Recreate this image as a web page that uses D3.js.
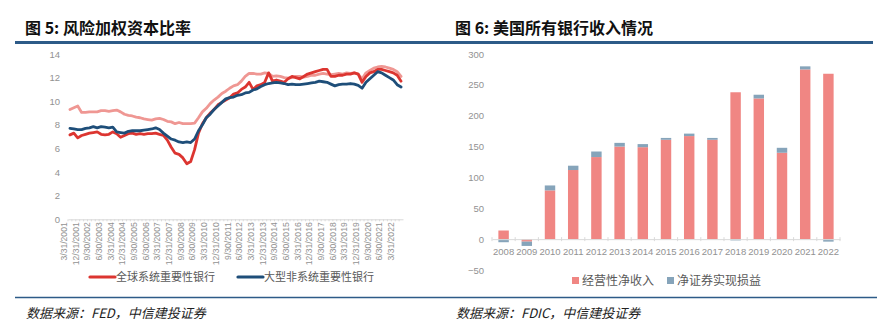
<!DOCTYPE html>
<html>
<head>
<meta charset="utf-8">
<script src="https://cdn.jsdelivr.net/npm/d3@7/dist/d3.min.js"></script>
<style>
  html, body { margin: 0; padding: 0; background: #fff; }
  svg { display: block; }
  .title { font-family: "Noto Sans CJK SC", sans-serif; font-weight: 700; font-size: 16px; fill: #111; }
  .src { font-family: "Noto Sans CJK SC", serif; font-style: italic; font-size: 13px; fill: #222; }
  .tick text { font-family: "Liberation Sans", Arial, sans-serif; fill: #929292; }
  .legend { font-family: "Noto Sans CJK SC", sans-serif; fill: #595959; }
</style>
</head>
<body>
<svg id="chart" width="886" height="331"></svg>
<script>
// ---------- Figure 5: risk-weighted capital ratio (quarterly) ----------
const quarters = [
  "3/31/2001","6/30/2001","9/30/2001","12/31/2001",
  "3/31/2002","6/30/2002","9/30/2002","12/31/2002",
  "3/31/2003","6/30/2003","9/30/2003","12/31/2003",
  "3/31/2004","6/30/2004","9/30/2004","12/31/2004",
  "3/31/2005","6/30/2005","9/30/2005","12/31/2005",
  "3/31/2006","6/30/2006","9/30/2006","12/31/2006",
  "3/31/2007","6/30/2007","9/30/2007","12/31/2007",
  "3/31/2008","6/30/2008","9/30/2008","12/31/2008",
  "3/31/2009","6/30/2009","9/30/2009","12/31/2009",
  "3/31/2010","6/30/2010","9/30/2010","12/31/2010",
  "3/31/2011","6/30/2011","9/30/2011","12/31/2011",
  "3/31/2012","6/30/2012","9/30/2012","12/31/2012",
  "3/31/2013","6/30/2013","9/30/2013","12/31/2013",
  "3/31/2014","6/30/2014","9/30/2014","12/31/2014",
  "3/31/2015","6/30/2015","9/30/2015","12/31/2015",
  "3/31/2016","6/30/2016","9/30/2016","12/31/2016",
  "3/31/2017","6/30/2017","9/30/2017","12/31/2017",
  "3/31/2018","6/30/2018","9/30/2018","12/31/2018",
  "3/31/2019","6/30/2019","9/30/2019","12/31/2019",
  "3/31/2020","6/30/2020","9/30/2020","12/31/2020",
  "3/31/2021","6/30/2021","9/30/2021","12/31/2021",
  "3/31/2022","6/30/2022"
];

const quarterTicks = [
  "3/31/2001","12/31/2001","9/30/2002","6/30/2003","3/31/2004","12/31/2004",
  "9/30/2005","6/30/2006","3/31/2007","12/31/2007","9/30/2008","6/30/2009",
  "3/31/2010","12/31/2010","9/30/2011","6/30/2012","3/31/2013","12/31/2013",
  "9/30/2014","6/30/2015","3/31/2016","12/31/2016","9/30/2017","6/30/2018",
  "3/31/2019","12/31/2019","9/30/2020","6/30/2021","3/31/2022"
];

const ratioTicks = [0, 2, 4, 6, 8, 10, 12, 14];

// All banks (light line, no legend entry)
const allBanks = [
  9.30, 9.45, 9.60, 9.05, 9.05, 9.10, 9.10, 9.10, 9.20, 9.20,
  9.15, 9.20, 9.25, 9.10, 8.90, 8.80, 8.75, 8.65, 8.60, 8.50,
  8.45, 8.40, 8.50, 8.55, 8.45, 8.30, 8.25, 8.10, 8.20, 8.10,
  8.10, 8.10, 8.15, 8.60, 9.10, 9.40, 9.80, 10.10, 10.35, 10.65,
  10.85, 11.10, 11.30, 11.40, 11.70, 12.10, 12.35, 12.35, 12.30, 12.30,
  12.40, 12.35, 12.10, 12.15, 12.10, 12.00, 11.95, 12.00, 12.10, 12.10,
  12.05, 12.10, 12.20, 12.20, 12.30, 12.35, 12.30, 12.25, 12.30, 12.35,
  12.30, 12.40, 12.35, 12.40, 12.30, 11.90, 12.40, 12.60, 12.80, 12.90,
  12.95, 12.90, 12.80, 12.70, 12.50, 12.10
];

// 全球系统重要性银行
const gsib = [
  7.15, 7.30, 6.90, 7.10, 7.20, 7.30, 7.35, 7.40, 7.20, 7.15,
  7.20, 7.40, 7.25, 6.95, 7.10, 7.25, 7.30, 7.20, 7.25, 7.20,
  7.25, 7.25, 7.30, 7.20, 7.10, 6.70, 6.10, 5.60, 5.50, 5.20,
  4.70, 4.90, 5.90, 7.30, 8.10, 8.60, 9.00, 9.30, 9.70, 9.90,
  10.10, 10.30, 10.60, 10.70, 11.00, 11.20, 11.60, 11.00, 11.30, 11.40,
  11.60, 12.40, 11.70, 11.80, 11.70, 11.60, 11.90, 12.10, 12.00, 11.90,
  12.10, 12.30, 12.40, 12.50, 12.60, 12.70, 12.70, 12.10, 12.10, 12.20,
  12.20, 12.30, 12.30, 12.40, 12.30, 11.60, 12.10, 12.40, 12.50, 12.70,
  12.70, 12.60, 12.50, 12.40, 12.20, 11.70
];

// 大型非系统重要性银行
const largeNonGsib = [
  7.70, 7.65, 7.60, 7.60, 7.70, 7.75, 7.85, 7.75, 7.85, 7.80,
  7.75, 7.80, 7.40, 7.35, 7.30, 7.45, 7.50, 7.50, 7.50, 7.55,
  7.60, 7.65, 7.75, 7.60, 7.30, 7.05, 6.80, 6.70, 6.55, 6.50,
  6.55, 6.50, 6.80, 7.50, 8.00, 8.60, 8.90, 9.30, 9.60, 9.90,
  10.20, 10.30, 10.35, 10.50, 10.55, 10.70, 10.75, 10.95, 11.05, 11.25,
  11.40, 11.50, 11.55, 11.60, 11.55, 11.50, 11.40, 11.45, 11.40, 11.40,
  11.45, 11.50, 11.55, 11.60, 11.70, 11.65, 11.60, 11.45, 11.30, 11.40,
  11.45, 11.45, 11.50, 11.45, 11.35, 11.10, 11.60, 11.90, 12.20, 12.50,
  12.40, 12.20, 12.00, 11.80, 11.40, 11.20
];

// ---------- Figure 6: income of all US banks (annual) ----------
const years = ["2008","2009","2010","2011","2012","2013","2014","2015",
               "2016","2017","2018","2019","2020","2021","2022"];
const operatingIncome = [14, -4, 79, 112, 133, 150, 149, 161, 167, 161, 238, 228, 140, 275, 268];
const securitiesGains = [-5, -7, 8, 7, 9, 6, 5, 3, 4, 3, -2, 6, 8, 5, -4];
const incomeTicks = [-50, 0, 50, 100, 150, 200, 250, 300];

const seriesNames = ["经营性净收入", "净证券实现损益"];
const lineNames = ["全球系统重要性银行", "大型非系统重要性银行"];

const COLORS = {
  gsib: "#dc3530",
  large: "#1e4e79",
  all: "#ef9793",
  barRed: "#f08683",
  barBlue: "#86a4ba",
  rule: "#2d5b88",
  axis: "#d9d9d9"
};

const svg = d3.select("#chart");

// ---- header and footer rules / texts ----
svg.append("text").attr("class", "title").attr("x", 25).attr("y", 34).text("图 5: 风险加权资本比率");
svg.append("text").attr("class", "title").attr("x", 455).attr("y", 34).text("图 6: 美国所有银行收入情况");
svg.append("line").attr("x1", 15).attr("x2", 873).attr("y1", 42.5).attr("y2", 42.5)
  .attr("stroke", COLORS.rule).attr("stroke-width", 2.8);
svg.append("line").attr("x1", 15).attr("x2", 877).attr("y1", 297.5).attr("y2", 297.5)
  .attr("stroke", COLORS.rule).attr("stroke-width", 1.5);
svg.append("text").attr("class", "src").attr("x", 26).attr("y", 318).text("数据来源：FED，中信建投证券");
svg.append("text").attr("class", "src").attr("x", 456).attr("y", 318).text("数据来源：FDIC，中信建投证券");

// ---- line chart ----
const xL = d3.scaleBand().domain(quarters).range([68, 403]);
const yL = d3.scaleLinear().domain([0, 14]).range([219.3, 54]);

const gL = svg.append("g");

gL.append("g")
  .attr("transform", `translate(0,${yL(0)})`)
  .call(d3.axisBottom(xL).tickValues(quarterTicks).tickSize(0).tickPadding(3))
  .call(g => g.select(".domain").attr("stroke", COLORS.axis))
  .call(g => g.selectAll(".tick text")
    .attr("font-size", 8.6)
    .attr("transform", "rotate(-90)")
    .attr("text-anchor", "end")
    .attr("dx", "-3px")
    .attr("dy", "-0.35em")
    .attr("x", 0).attr("y", 0));

// small quarter ticks along the base line
gL.append("g")
  .attr("transform", `translate(0,${yL(0)})`)
  .call(d3.axisBottom(xL).tickValues(quarters).tickSize(2).tickFormat(""))
  .call(g => g.select(".domain").remove())
  .call(g => g.selectAll(".tick line").attr("stroke", COLORS.axis)
    .attr("transform", `translate(${-xL.bandwidth() / 2},0)`));

gL.append("g")
  .attr("transform", "translate(68,0)")
  .call(d3.axisLeft(yL).tickValues(ratioTicks).tickSize(0).tickPadding(8))
  .call(g => g.select(".domain").remove())
  .call(g => g.selectAll(".tick text").attr("font-size", 9.5));

const line = d3.line()
  .x((d, i) => xL(quarters[i]) + xL.bandwidth() / 2)
  .y(d => yL(d));

[[allBanks, COLORS.all], [gsib, COLORS.gsib], [largeNonGsib, COLORS.large]].forEach(([vals, c]) => {
  gL.append("path").datum(vals)
    .attr("fill", "none").attr("stroke", c).attr("stroke-width", 2.8)
    .attr("stroke-linejoin", "round").attr("stroke-linecap", "round")
    .attr("d", line);
});

// legend
const legL = gL.append("g").attr("transform", "translate(0,277)");
[[lineNames[0], COLORS.gsib, 90], [lineNames[1], COLORS.large, 238]].forEach(([name, c, x]) => {
  legL.append("line").attr("x1", x).attr("x2", x + 25).attr("y1", 0).attr("y2", 0)
    .attr("stroke", c).attr("stroke-width", 3.2).attr("stroke-linecap", "round");
  legL.append("text").attr("class", "legend").attr("x", x + 26).attr("y", 4.2)
    .attr("font-size", 11).text(name);
});

// ---- stacked bar chart ----
const xB = d3.scaleBand().domain(years).range([492, 840]).paddingInner(0.55).paddingOuter(0.275);
const yB = d3.scaleLinear().domain([-50, 300]).range([270, 54]);

const rows = years.map((y, i) => ({ year: y, op: operatingIncome[i], sec: securitiesGains[i] }));
const stacked = d3.stack().keys(["op", "sec"]).offset(d3.stackOffsetDiverging)(rows);
const barColors = [COLORS.barRed, COLORS.barBlue];

const gB = svg.append("g");

gB.append("g")
  .attr("transform", "translate(492,0)")
  .call(d3.axisLeft(yB).tickValues(incomeTicks).tickSize(0).tickPadding(8))
  .call(g => g.select(".domain").remove())
  .call(g => g.selectAll(".tick text").attr("font-size", 9.5));

gB.selectAll("g.layer").data(stacked).join("g")
  .attr("class", "layer")
  .attr("fill", (d, i) => barColors[i])
  .selectAll("rect").data(d => d).join("rect")
  .attr("x", d => xB(d.data.year))
  .attr("width", xB.bandwidth())
  .attr("y", d => yB(Math.max(d[0], d[1])))
  .attr("height", d => Math.abs(yB(d[0]) - yB(d[1])));

const xAxisB = gB.append("g")
  .attr("transform", `translate(0,${yB(0)})`)
  .call(d3.axisBottom(xB).tickSize(0).tickPadding(9))
  .call(g => g.select(".domain").attr("stroke", COLORS.axis))
  .call(g => g.selectAll(".tick text").attr("font-size", 9.5));

// category boundary ticks
xAxisB.selectAll("line.sep").data(years.concat(["end"])).join("line")
  .attr("class", "sep")
  .attr("x1", (d, i) => 492 + i * xB.step())
  .attr("x2", (d, i) => 492 + i * xB.step())
  .attr("y1", -2).attr("y2", 2)
  .attr("stroke", COLORS.axis);

// legend
const legB = gB.append("g").attr("transform", "translate(0,281)");
[[seriesNames[0], COLORS.barRed, 572], [seriesNames[1], COLORS.barBlue, 667]].forEach(([name, c, x]) => {
  legB.append("rect").attr("x", x).attr("y", -4).attr("width", 7).attr("height", 7).attr("fill", c);
  legB.append("text").attr("class", "legend").attr("x", x + 10).attr("y", 4)
    .attr("font-size", 12).text(name);
});
</script>
</body>
</html>
